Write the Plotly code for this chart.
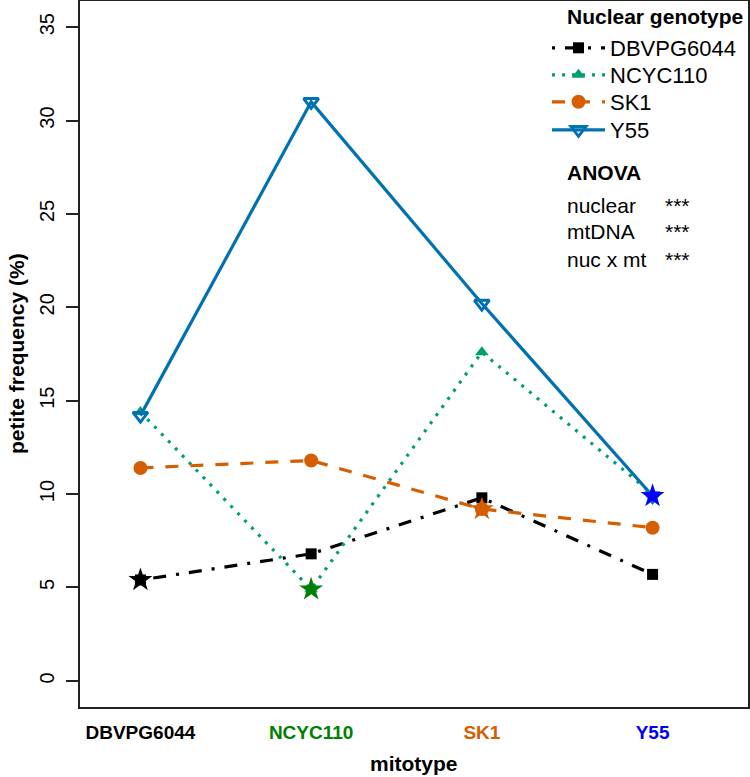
import plotly.graph_objects as go

mitotypes = ["DBVPG6044", "NCYC110", "SK1", "Y55"]
nuclear = ["DBVPG6044", "NCYC110", "SK1", "Y55"]
dbvpg_vals = [5.4, 6.8, 9.8, 5.7]
ncyc_vals = [14.4, 4.9, 17.6, 10.0]
sk1_vals = [11.4, 11.8, 9.2, 8.2]
y55_vals = [14.2, 31.0, 20.2, 9.9]
series_vals = [dbvpg_vals, ncyc_vals, sk1_vals, y55_vals]

line_colors = ["#000000", "#009E73", "#D55E00", "#0072B2"]
label_colors = ["#000000", "#008000", "#D55E00", "#0000FF"]
dashes = ["3px,10px,13px,10px", "3px,7px", "13px,12px", "solid"]
symbols = ["square", "triangle-up", "circle", "triangle-down-open"]
msizes = [11, 12, 14, 13]

anova_terms = ["nuclear", "mtDNA", "nuc x mt"]
anova_sig = ["***", "***", "***"]

yticks = [0, 5, 10, 15, 20, 25, 30, 35]
xpos = [1, 2, 3, 4]

W, H = 750, 777
L, R, T, B = 80, 2, 1, 70
PW, PH = W - L - R, H - T - B

def px(x):
    return (x - L) / PW

def py(y):
    return 1 - (y - T) / PH

font = "Liberation Sans, Arial, Helvetica, sans-serif"
legend_ids = ["legend", "legend2", "legend3", "legend4"]
legend_rows = [48, 75, 102, 130]

fig = go.Figure()
for i, name in enumerate(nuclear):
    fig.add_trace(go.Scatter(
        x=xpos, y=series_vals[i], name=name, mode="lines+markers",
        legend=legend_ids[i],
        line=dict(color=line_colors[i], width=3.2, dash=dashes[i]),
        marker=dict(symbol=symbols[i], size=msizes[i], color=line_colors[i],
                    line=dict(width=3 if i == 3 else 0, color=line_colors[i])),
    ))

# stars on diagonal (nuclear == mitotype)
fig.add_trace(go.Scatter(
    x=xpos, y=[series_vals[i][i] for i in range(4)], mode="markers",
    marker=dict(symbol="star", size=18, color=label_colors, line=dict(width=0)),
    showlegend=False,
))

ticktext = [f"<b><span style='color:{c}'>{m}</span></b>" for m, c in zip(mitotypes, label_colors)]

legends = {}
for lid, row in zip(legend_ids, legend_rows):
    legends[lid] = dict(x=px(547), y=py(row), xanchor="left", yanchor="middle",
                        font=dict(size=22, family=font), itemwidth=53,
                        bgcolor="rgba(0,0,0,0)", borderwidth=0)

fig.update_layout(
    width=W, height=H,
    margin=dict(l=L, r=R, t=T, b=B, autoexpand=False),
    paper_bgcolor="white", plot_bgcolor="white",
    font=dict(family=font, color="black"),
    showlegend=True,
    xaxis=dict(range=[0.646, 4.559], tickmode="array", tickvals=xpos, ticktext=ticktext,
               showgrid=False, zeroline=False, showline=True, mirror=True, automargin=False,
               linecolor="#222", linewidth=1.5, ticks="",
               tickfont=dict(size=19, family=font), ticklabelstandoff=7),
    yaxis=dict(range=[-1.4, 36.4], tickmode="array", tickvals=yticks,
               ticktext=[str(v) for v in yticks], tickangle=-90, automargin=False,
               showgrid=False, zeroline=False, showline=True, mirror=True,
               linecolor="#222", linewidth=1.5, ticks="outside", ticklen=12,
               tickcolor="#222", tickwidth=1.5,
               tickfont=dict(size=20, family=font), ticklabelstandoff=4),
    **legends,
)

ann = []
ann.append(dict(text="<b>petite frequency (%)</b>", x=px(16), y=0.5, xref="paper", yref="paper",
                textangle=-90, showarrow=False, font=dict(size=21), xanchor="center", yanchor="middle"))
ann.append(dict(text="<b>mitotype</b>", x=0.5, y=py(763), xref="paper", yref="paper",
                showarrow=False, font=dict(size=21), xanchor="center", yanchor="middle"))
ann.append(dict(text="<b>Nuclear genotype</b>", x=px(565), y=py(17), xref="paper", yref="paper",
                showarrow=False, font=dict(size=21), xanchor="left", yanchor="middle"))
ann.append(dict(text="<b>ANOVA</b>", x=px(565), y=py(173), xref="paper", yref="paper",
                showarrow=False, font=dict(size=21), xanchor="left", yanchor="middle"))
for k, (term, sig) in enumerate(zip(anova_terms, anova_sig)):
    yy = 205 + k * 27
    ann.append(dict(text=term, x=px(565), y=py(yy), xref="paper", yref="paper",
                    showarrow=False, font=dict(size=21), xanchor="left", yanchor="middle"))
    ann.append(dict(text=sig, x=px(663), y=py(yy), xref="paper", yref="paper",
                    showarrow=False, font=dict(size=21), xanchor="left", yanchor="middle"))
fig.update_layout(annotations=ann)

fig.write_html("out.html", config={"displayModeBar": False},
               post_script="document.body.style.margin='0';")
